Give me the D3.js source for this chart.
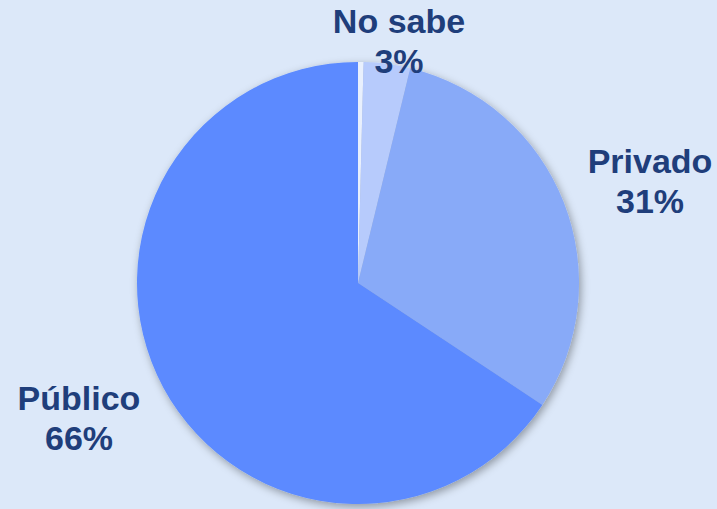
<!DOCTYPE html>
<html><head><meta charset="utf-8">
<script src="https://cdn.jsdelivr.net/npm/d3@7"></script>
<style>html,body{margin:0;padding:0;background:#dce8f9;}svg{display:block;}</style>
</head><body>
<script>
const categories = ["Otro", "No sabe", "Privado", "Público"];
const values = [0.4, 3.4, 30.5, 65.7];
const colors = ["#e9f0fd", "#b7cbfc", "#88aaf8", "#5b8aff"];
const showLabel = [false, true, true, true];

const W = 717, H = 509, cx = 358, cy = 283, R = 221;
const svg = d3.select("body").append("svg").attr("width", W).attr("height", H);
svg.append("rect").attr("width", W).attr("height", H).attr("fill", "#dce8f9");

const defs = svg.append("defs");
const f = defs.append("filter").attr("id", "sh").attr("x", "-20%").attr("y", "-20%").attr("width", "140%").attr("height", "140%");
f.append("feDropShadow").attr("dx", 2).attr("dy", 3).attr("stdDeviation", 4).attr("flood-color", "#000").attr("flood-opacity", 0.35);

const pie = d3.pie().sort(null).value(d => d)(values);
const arc = d3.arc().innerRadius(0).outerRadius(R);

const g = svg.append("g").attr("transform", `translate(${cx},${cy})`).attr("filter", "url(#sh)");
g.selectAll("path").data(pie).join("path")
  .attr("d", arc)
  .attr("fill", (d, i) => colors[i]);

const labelPos = {1: [399, 33], 2: [650, 173], 3: [79, 410]};
const tg = svg.append("g");
pie.forEach((d, i) => {
  if (!showLabel[i]) return;
  const [x, y] = labelPos[i];
  const t = tg.append("text").attr("x", x).attr("y", y).attr("text-anchor", "middle")
    .attr("font-family", "Liberation Sans, Arial, sans-serif").attr("font-weight", "bold")
    .attr("font-size", 34).attr("fill", "#1f3e7b");
  t.append("tspan").attr("x", x).attr("dy", 0).text(categories[i]);
  t.append("tspan").attr("x", x).attr("dy", 40).text(Math.round(values[i]) + "%");
});
</script>
</body></html>
